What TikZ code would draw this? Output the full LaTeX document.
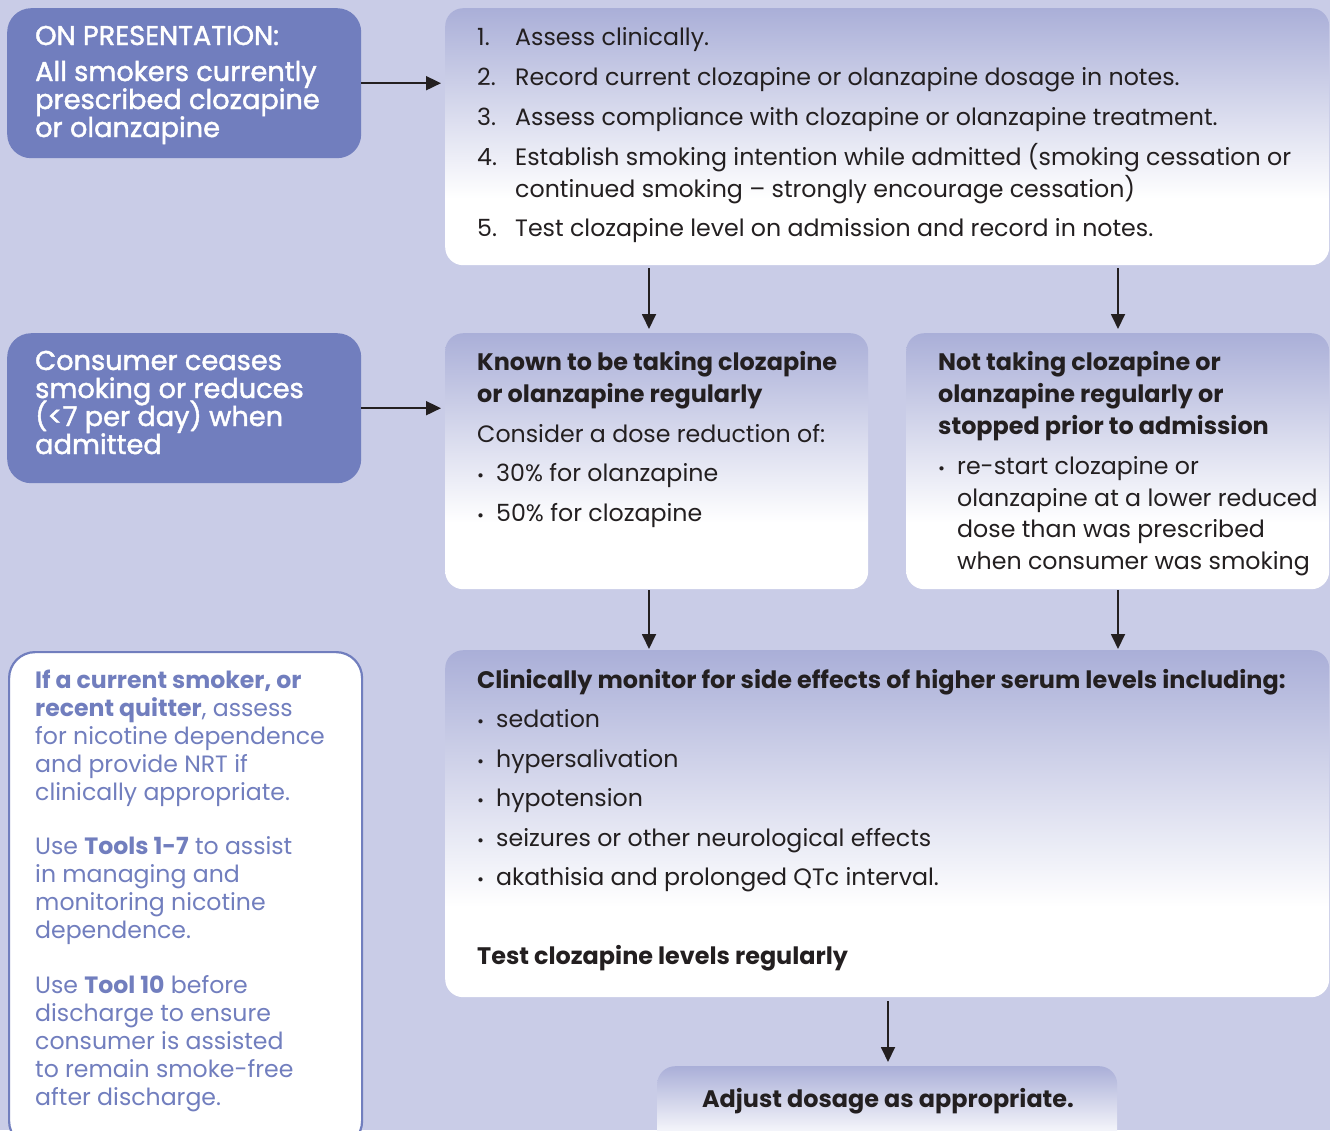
\documentclass[tikz,border=0pt]{standalone}
\usepackage{fontspec}
\setmainfont{Poppins}
\newfontfamily\wfont{Poppins}[FakeBold=1.6]
\usetikzlibrary{arrows.meta,calc}
\definecolor{bg}{HTML}{C9CCE7}
\definecolor{dark}{HTML}{717EBE}
\definecolor{gradtop}{HTML}{AAAFD8}
\definecolor{ink}{HTML}{231F20}
\pgfdeclareverticalshading{boxshade}{100bp}{color(0bp)=(white); color(38bp)=(white); color(75bp)=(gradtop); color(100bp)=(gradtop)}
\tikzset{
  darkbox/.style={fill=dark, draw=none, rounded corners=24pt, inner sep=0pt, anchor=north west},
  gradbox/.style={shading=boxshade, draw=none, rounded corners=18pt, inner sep=0pt, anchor=north west},
  outbox/.style={fill=white, draw=dark, line width=2.2pt, rounded corners=26pt, inner sep=0pt, anchor=north west},
  wtxt/.style={anchor=base west, inner sep=0pt, text=white, font=\wfont\fontsize{27.2}{30}\selectfont},
  btxt/.style={anchor=base west, inner sep=0pt, text=ink, font=\fontsize{23.7}{26}\selectfont},
  hbtxt/.style={anchor=base west, inner sep=0pt, text=ink, font=\fontsize{23.9}{26}\selectfont\bfseries},
  ftxt/.style={anchor=base west, inner sep=0pt, text=dark, font=\fontsize{23.6}{26}\selectfont},
  bul/.style={anchor=base west, inner sep=0pt, text=ink, font=\fontsize{17}{18}\selectfont},
  arr/.style={draw=ink, line width=1.8pt, -{Triangle[width=14pt,length=15pt]}}
}
\begin{document}
\begin{tikzpicture}[x=1pt,y=-1pt]
\useasboundingbox (0,0) rectangle (1330,1130);
\clip (0,0) rectangle (1330,1130);
\fill[bg] (0,0) rectangle (1330,1130);

% boxes
\node[darkbox, minimum width=354pt, minimum height=150pt] (A) at (7,8) {};
\node[gradbox, minimum width=884pt, minimum height=257pt] (B) at (445,8) {};
\node[darkbox, minimum width=354pt, minimum height=150pt] (C) at (7,333) {};
\node[gradbox, minimum width=423pt, minimum height=256pt] (D) at (445,333) {};
\node[gradbox, minimum width=423pt, minimum height=256pt] (E) at (906,333) {};
\node[outbox, minimum width=353pt, minimum height=495pt] (F) at (8,651) {};
\node[gradbox, minimum width=884pt, minimum height=347pt] (G) at (445,650) {};
\node[gradbox, minimum width=460pt, minimum height=100pt] (H) at (657,1066) {};

% box A text
\node[wtxt] (a1) at (35,45) {ON PRESENTATION:};
\node[wtxt] (a2) at (35,81) {All smokers currently};
\node[wtxt] (a3) at (35,109) {prescribed clozapine};
\node[wtxt] (a4) at (35,137) {or olanzapine};

% box B text
\node[btxt] (n1) at (477,45) {1.};
\node[btxt] (b1) at (515,45) {Assess clinically.};
\node[btxt] (n2) at (477,85) {2.};
\node[btxt] (b2) at (515,85) {Record current clozapine or olanzapine dosage in notes.};
\node[btxt] (n3) at (477,125) {3.};
\node[btxt] (b3) at (515,125) {Assess compliance with clozapine or olanzapine treatment.};
\node[btxt] (n4) at (477,165) {4.};
\node[btxt] (b4) at (515,165) {Establish smoking intention while admitted (smoking cessation or};
\node[btxt] (b4b) at (515,197) {continued smoking – strongly encourage cessation)};
\node[btxt] (n5) at (477,236) {5.};
\node[btxt] (b5) at (515,236) {Test clozapine level on admission and record in notes.};

% box C text
\node[wtxt] (c1) at (35,370) {Consumer ceases};
\node[wtxt] (c2) at (35,398) {smoking or reduces};
\node[wtxt] (c3) at (35,426) {(<7 per day) when};
\node[wtxt] (c4) at (35,454) {admitted};

% box D text
\node[hbtxt] (d1) at (477,370) {Known to be taking clozapine};
\node[hbtxt] (d2) at (477,402) {or olanzapine regularly};
\node[btxt] (d3) at (477,442) {Consider a dose reduction of:};
\node[bul] (db1) at (477,481) {•};
\node[btxt] (d4) at (496,481) {30\% for olanzapine};
\node[bul] (db2) at (477,521) {•};
\node[btxt] (d5) at (496,521) {50\% for clozapine};

% box E text
\node[hbtxt] (e1) at (938,370) {Not taking clozapine or};
\node[hbtxt] (e2) at (938,402) {olanzapine regularly or};
\node[hbtxt] (e3) at (938,434) {stopped prior to admission};
\node[bul] (eb1) at (938,474) {•};
\node[btxt] (e4) at (957,474) {re-start clozapine or};
\node[btxt] (e5) at (957,506) {olanzapine at a lower reduced};
\node[btxt] (e6) at (957,537) {dose than was prescribed};
\node[btxt] (e7) at (957,569) {when consumer was smoking};

% box F text
\node[ftxt] (f1) at (35,688) {\textbf{If a current smoker, or}};
\node[ftxt] (f2) at (35,716) {\textbf{recent quitter}, assess};
\node[ftxt] (f3) at (35,744) {for nicotine dependence};
\node[ftxt] (f4) at (35,772) {and provide NRT if};
\node[ftxt] (f5) at (35,800) {clinically appropriate.};
\node[ftxt] (f6) at (35,854) {Use \textbf{Tools 1-7} to assist};
\node[ftxt] (f7) at (35,882) {in managing and};
\node[ftxt] (f8) at (35,910) {monitoring nicotine};
\node[ftxt] (f9) at (35,938) {dependence.};
\node[ftxt] (f10) at (35,993) {Use \textbf{Tool 10} before};
\node[ftxt] (f11) at (35,1021) {discharge to ensure};
\node[ftxt] (f12) at (35,1049) {consumer is assisted};
\node[ftxt] (f13) at (35,1077) {to remain smoke-free};
\node[ftxt] (f14) at (35,1105) {after discharge.};

% box G text
\node[hbtxt] (g1) at (477,688) {Clinically monitor for side effects of higher serum levels including:};
\node[bul] (gb1) at (477,727) {•};
\node[btxt] (g2) at (496,727) {sedation};
\node[bul] (gb2) at (477,767) {•};
\node[btxt] (g3) at (496,767) {hypersalivation};
\node[bul] (gb3) at (477,806) {•};
\node[btxt] (g4) at (496,806) {hypotension};
\node[bul] (gb4) at (477,846) {•};
\node[btxt] (g5) at (496,846) {seizures or other neurological effects};
\node[bul] (gb5) at (477,885) {•};
\node[btxt] (g6) at (496,885) {akathisia and prolonged QTc interval.};
\node[hbtxt] (g7) at (477,964) {Test clozapine levels regularly};

% box H text
\node[hbtxt, anchor=base] (h1) at (888,1107) {Adjust dosage as appropriate.};

% connectors
\coordinate (xL) at (649,0);
\coordinate (xR) at (1118,0);
\coordinate (xM) at (888,0);
\draw[arr, shorten >=4pt] (A.east) -- (A.east -| B.west);
\draw[arr, shorten >=4pt] (C.east) -- (C.east -| D.west);
\draw[arr, shorten <=3pt, shorten >=4pt] (B.south -| xL) -- (D.north -| xL);
\draw[arr, shorten <=3pt, shorten >=4pt] (B.south -| xR) -- (E.north -| xR);
\draw[arr, shorten <=1pt, shorten >=1pt] (D.south -| xL) -- (G.north -| xL);
\draw[arr, shorten <=1pt, shorten >=1pt] (E.south -| xR) -- (G.north -| xR);
\draw[arr, shorten <=4pt, shorten >=4pt] (G.south -| xM) -- (H.north -| xM);
\end{tikzpicture}
\end{document}
